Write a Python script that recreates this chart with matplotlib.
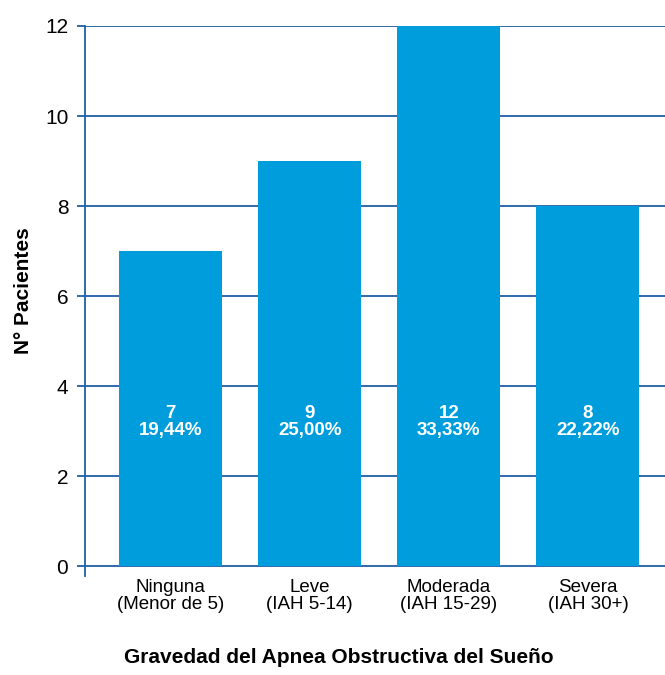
import matplotlib
matplotlib.use("Agg")
import matplotlib.pyplot as plt

categories = ["Ninguna\n(Menor de 5)", "Leve\n(IAH 5-14)", "Moderada\n(IAH 15-29)", "Severa\n(IAH 30+)"]
counts = [7, 9, 12, 8]
percents = ["19,44%", "25,00%", "33,33%", "22,22%"]
y_ticks = [0, 2, 4, 6, 8, 10, 12]

plt.rcParams["font.family"] = ["Liberation Sans", "DejaVu Sans"]

bar_color = "#009ddc"
line_color = "#1f5fa8"

fig = plt.figure(figsize=(6.65, 6.75), dpi=100)
ax = fig.add_axes([0.1278, 0.1467, 0.8722, 0.8148])

x = list(range(len(categories)))
ax.bar(x, counts, width=0.74, color=bar_color, zorder=3)

for xi, c, p in zip(x, counts, percents):
    ax.text(xi, 3.2, f"{c}\n{p}", ha="center", va="center", color="white",
            fontsize=13.5, fontweight="bold", linespacing=0.95, zorder=4)

ax.set_xlim(-0.615, 3.554)
ax.set_ylim(-0.22, 12)
ax.set_yticks(y_ticks)
ax.set_xticks(x)
ax.set_xticklabels(categories, fontsize=13.5, linespacing=1.0)

for t in y_ticks:
    ax.axhline(t, color=line_color, linewidth=1.3, zorder=1)

for side in ["top", "right", "bottom"]:
    ax.spines[side].set_visible(False)
ax.spines["left"].set_color(line_color)
ax.spines["left"].set_linewidth(1.3)
ax.spines["left"].set_bounds(-0.22, 12)

ax.tick_params(axis="y", length=6, width=1.3, color=line_color, labelsize=15, pad=6)
ax.tick_params(axis="x", length=0, pad=2)

ax.set_ylabel("N° Pacientes", fontsize=15, fontweight="bold")
ax.yaxis.set_label_coords(-0.09, 0.518)
fig.text(0.51, 0.0178, "Gravedad del Apnea Obstructiva del Sueño",
         ha="center", va="baseline", fontsize=15, fontweight="bold")

fig.savefig("out.png", dpi=100)
